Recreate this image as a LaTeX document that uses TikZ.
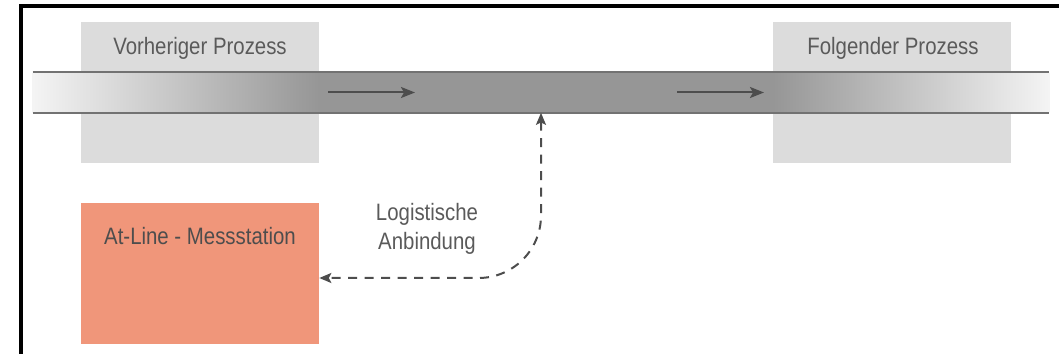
\documentclass[tikz,border=0pt]{standalone}
\usepackage{fontspec}
\setmainfont[FakeStretch=0.86]{Liberation Sans}
\usetikzlibrary{arrows.meta}

\definecolor{boxgray}{HTML}{DCDCDC}
\definecolor{bandgray}{HTML}{969696}
\definecolor{bandlight}{HTML}{F4F4F4}
\definecolor{rimgray}{HTML}{727272}
\definecolor{inkgray}{HTML}{4D4D4D}
\definecolor{txtgray}{HTML}{5A5A5A}
\definecolor{salmon}{HTML}{F0967A}

\tikzset{
  procbox/.style={fill=boxgray, draw=none, inner sep=0pt,
    minimum width=4.76cm, minimum height=2.82cm},
  stationbox/.style={fill=salmon, draw=none, inner sep=0pt,
    minimum width=4.76cm, minimum height=2.82cm},
  title/.style={text=txtgray, font=\fontsize{13.5}{16}\selectfont, anchor=base, inner sep=0pt},
  bandnode/.style={draw=none, inner sep=0pt, minimum width=20.32cm, minimum height=0.8cm},
  rim/.style={draw=rimgray, line width=0.03cm},
  flow/.style={draw=inkgray, line width=0.04cm,
    -{Stealth[length=0.28cm, width=0.22cm, inset=0.06cm]}},
  link/.style={draw=inkgray, line width=0.04cm, dash pattern=on 0.18cm off 0.15cm,
    rounded corners=1.25cm,
    {Stealth[length=0.24cm, width=0.2cm, inset=0.05cm]}-{Stealth[length=0.24cm, width=0.2cm, inset=0.05cm]}},
  note/.style={text=txtgray, font=\fontsize{13.5}{17}\selectfont, align=center, inner sep=0pt, anchor=base}
}

\begin{document}
\begin{tikzpicture}[x=0.02cm, y=-0.02cm]
  \useasboundingbox (0,0) rectangle (1059,354);

  % frame edges, top and left
  \draw[line width=0.08cm, black] (21,354) -- (21,6) -- (1059,6);

  % process boxes
  \node[procbox] (prev) at (200,92.5) {};
  \node[procbox] (next) at (892,92.5) {};
  \node[stationbox] (station) at (200,273.5) {};

  % conveyor band
  \node[bandnode] (band) at (541,92.5) {};
  \shade[left color=bandlight, right color=bandgray]
    (band.south west) rectangle ([xshift=5.72cm]band.north west);
  \fill[bandgray]
    ([xshift=5.72cm]band.south west) rectangle ([xshift=-5.52cm]band.north east);
  \shade[left color=bandgray, right color=bandlight]
    ([xshift=-5.52cm]band.south east) rectangle (band.north east);
  \draw[rim] (band.north west) -- (band.north east);
  \draw[rim] (band.south west) -- (band.south east);

  % titles
  \node[title] (prevtitle) at (200,55) {Vorheriger Prozess};
  \node[title] (nexttitle) at (893,55) {Folgender Prozess};
  \node[title, text=inkgray] (stationtitle) at (200,245) {At-Line - Messstation};

  % flow direction
  \coordinate (f1a) at (328,92.5);
  \coordinate (f1b) at (415,92.5);
  \coordinate (f2a) at (677,92.5);
  \coordinate (f2b) at (764,92.5);
  \draw[flow] (f1a) -- (f1b);
  \draw[flow] (f2a) -- (f2b);

  % logistic link between band and measuring station
  \draw[link] (band.south) |- ([yshift=-0.09cm]station.east);
  \node[note] (linklabel) at (427,250) {Logistische\\Anbindung};
\end{tikzpicture}
\end{document}
